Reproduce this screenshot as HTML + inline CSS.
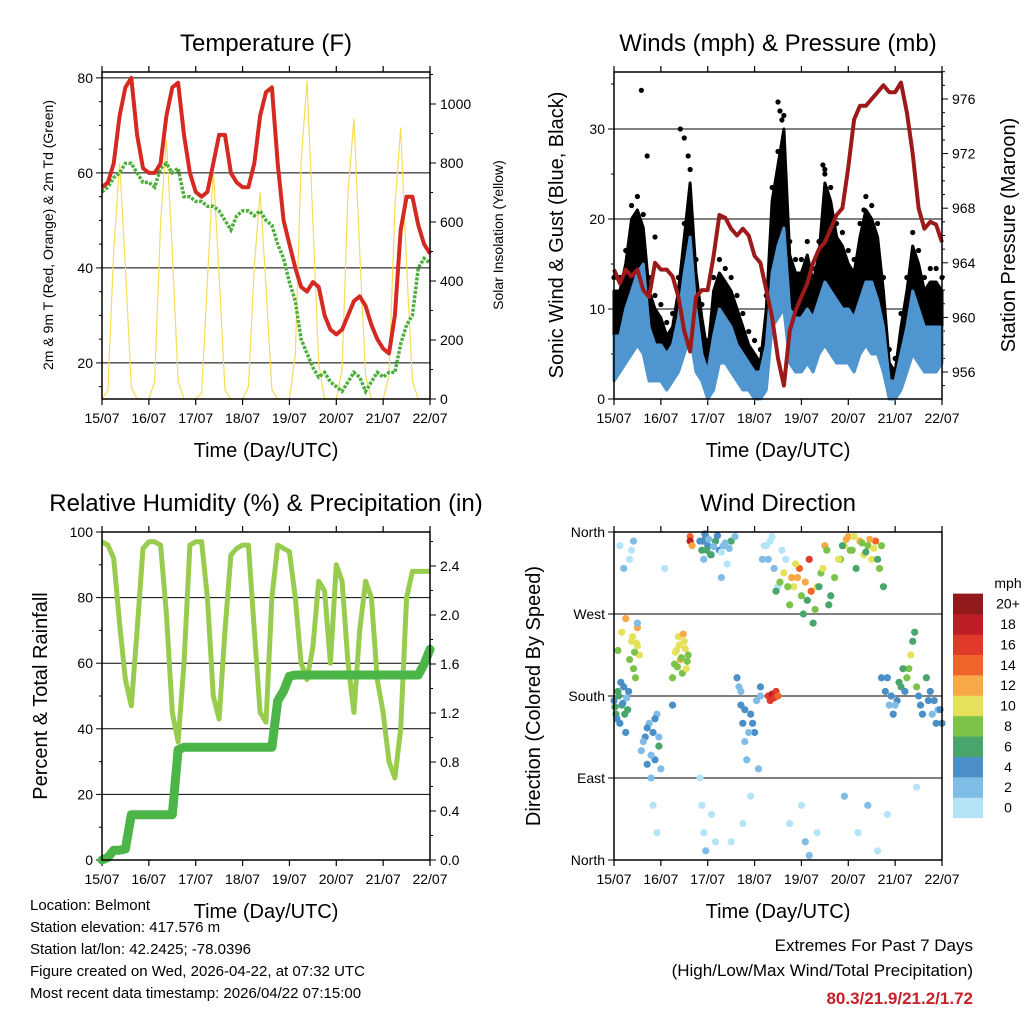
<!DOCTYPE html>
<html><head><meta charset="utf-8"><style>
html,body{margin:0;padding:0;background:#fff;}
svg{display:block;font-family:"Liberation Sans",Arial,sans-serif;}
</style></head><body>
<svg id="root" width="1024" height="1024" viewBox="0 0 1024 1024">
<g id="g1"></g>
<g id="g2"></g>
<g id="g3"></g>
<g id="g4"></g>
<g font-size="15" fill="#000">
<text x="30" y="910">Location: Belmont</text>
<text x="30" y="932">Station elevation: 417.576 m</text>
<text x="30" y="954">Station lat/lon: 42.2425; -78.0396</text>
<text x="30" y="976">Figure created on Wed, 2026-04-22, at 07:32 UTC</text>
<text x="30" y="998">Most recent data timestamp: 2026/04/22 07:15:00</text>
</g>
<g text-anchor="end">
<text x="973" y="951" font-size="17">Extremes For Past 7 Days</text>
<text x="973" y="976" font-size="17">(High/Low/Max Wind/Total Precipitation)</text>
<text x="973" y="1004" font-size="17" font-weight="bold" fill="#c8202a">80.3/21.9/21.2/1.72</text>
</g>
</svg>
<script>
// ---------- data (3-hourly, t = 0..168 h) ----------
const hours = [0,3,6,9,12,15,18,21,24,27,30,33,36,39,42,45,48,51,54,57,60,63,66,69,72,75,78,81,84,87,90,93,96,99,102,105,108,111,114,117,120,123,126,129,132,135,138,141,144,147,150,153,156,159,162,165,168];
const dayLabels = ["15/07","16/07","17/07","18/07","19/07","20/07","21/07","22/07"];
const tempF = [57,58,62,72,78,80,68,61, 60,60,62,72,78,79,68,60, 56,55,56,62,68,68,60,58, 57,57,62,72,77,78,62,50, 45,40,36,35,37,36,30,27, 26,27,30,33,34,32,28,25, 23,22,30,48,55,55,49,45,43];
const dewF = [56,57,59,60,62,62,60,58, 58,57,61,62,60,61,55,55, 54,54,53,53,52,50,48,51, 52,52,51,52,50,49,45,42, 37,33,25,22,19,17,18,16, 15,14,16,18,17,14,16,18, 17,18,18,24,28,30,40,42,41];
const solar = [0,30,500,800,450,40,0,0, 0,60,600,880,500,60,0,0, 0,20,400,780,420,30,0,0, 0,40,450,700,380,30,0,0, 0,150,800,1080,600,120,0,0, 0,100,700,950,500,80,0,0, 0,80,650,920,450,60,0,0,0];
const gustHi = [12,12,15,20,21,19,12,10, 9,7,8,12,18,24,14,9, 5,12,14,13,12,10,8,6, 5,4,10,22,26,30,16,14, 14,16,13,16,24,22,18,17, 15,14,18,21,20,18,12,4, 3,8,12,17,15,12,13,13,12];
const gustLo = [6,7,8,10,11,10,6,4, 4,3,4,5,8,11,6,4, 1,2,8,8,7,5,3,2, 1,1,3,12,14,15,8,6, 6,8,7,9,12,11,8,8, 7,7,9,10,10,9,6,1, 1,3,6,9,8,6,6,6,7];
const windHi = [7,7,10,12,14,15,8,6, 6,5,6,9,14,18,10,5, 3,7,10,9,8,6,5,4, 3,3,6,14,17,19,10,9, 9,10,9,11,13,12,11,10, 10,9,11,13,13,11,8,2, 2,5,8,12,10,8,8,8,8];
const windLo = [2,3,4,5,6,5,2,2, 2,1,2,3,5,7,3,2, 0,1,4,4,3,2,1,1, 0,0,1,8,9,10,4,3, 3,4,3,5,6,5,4,4, 4,3,5,6,5,5,3,0, 0,1,3,5,4,3,3,3,4];
const gustPeakT = [14,17,21,34,36,38,84,85,86,107,108,128];
const gustPeakV = [34.3,27,18,30,29,27,33,32,31,26,25,21];
const pressure = [963.5,962.5,963.5,963,963.5,962,961.5,964, 963.5,963.5,963,961.5,959,957.5,961.5,962, 962,964.5,967.5,967.3,966.5,966,966.5,966, 964.5,964,962,960,957,955,959,960.5, 961.5,962.5,964,965,965.5,966.5,967.5,968, 971,974.5,975.5,975.5,976,976.5,977,976.5, 976.5,977.2,975,972,968,966.5,967,966.8,965.5];
const rh = [97,96,92,72,55,47,70,95, 97,97,96,75,45,36,60,96, 97,97,80,50,43,70,93,95, 96,96,70,45,42,80,96,95, 94,80,60,55,65,85,82,60, 90,85,60,45,70,85,80,55, 45,30,25,40,80,88,88,88,88];
const precip = [0,0.02,0.08,0.08,0.09,0.37,0.37,0.37, 0.37,0.37,0.37,0.37,0.37,0.9,0.92,0.92, 0.92,0.92,0.92,0.92,0.92,0.92,0.92,0.92, 0.92,0.92,0.92,0.92,0.92,0.92,1.3,1.38, 1.5,1.51,1.51,1.51,1.51,1.51,1.51,1.51, 1.51,1.51,1.51,1.51,1.51,1.51,1.51,1.51, 1.51,1.51,1.51,1.51,1.51,1.51,1.51,1.6,1.72];
// wind direction observations: time (h), direction (deg), speed (mph)
const dirT = [0,1,2,3,4,5,6,7,2,4,6,8,9,10,11,12,12,13,8,10,3,5,9,14,16,17,18,19,20,21,22,23,24,20,22,30,31,32,33,34,35,36,37,38,39,39,40,44,45,46,47,48,50,52,54,56,58,60,44,45,46,47,50,52,64,65,66,67,68,70,72,74,75,66,70,76,78,80,82,84,86,88,79,80,81,82,83,84,90,92,94,95,96,97,98,100,102,104,106,108,110,96,98,100,104,116,118,120,122,124,126,128,130,132,134,136,138,125,130,135,137,139,141,143,145,147,150,151,152,153,154,155,156,157,158,160,162,164,166,168,30,60,90,118,140,155,12,26,55,62,
  0.5,1.5,2.5,3.5,4.5,5.5,6.5,7.5,9.5,10.5,11.5,15,17,19,21,23,31.5,32.5,33.5,34.5,35.5,36.5,37.5,45.5,46.5,47.5,48.5,49.5,51,53,55,57,59,63,65,67,69,71,73,75,77,79,81,83,85,87,89,91,93,99,101,103,105,107,109,111,113,115,117,119,121,123,127,129,131,133,135,137,140,142,144,146,148,149,161,163,165,167];
const dirD = [175,160,185,150,170,190,140,165,230,250,265,220,240,210,200,235,255,225,330,350,345,320,340,120,135,105,150,90,140,110,160,125,100,60,30,200,215,230,245,220,205,240,210,225,355,350,345,350,340,330,355,345,335,350,340,345,325,350,90,60,30,10,50,20,190,170,150,130,110,160,140,100,180,40,70,330,345,350,320,300,340,330,180,175,182,178,185,180,280,300,310,320,290,270,305,330,260,300,315,345,280,60,20,5,30,330,345,355,340,320,350,335,345,330,350,320,300,30,60,10,200,185,170,160,175,190,200,210,225,240,250,190,180,170,160,200,185,175,165,150,170,20,40,70,50,80,260,320,310,355,
  168,155,180,195,172,160,178,185,245,228,238,130,145,115,155,135,228,212,236,222,248,232,218,350,358,340,352,335,344,356,338,348,342,200,185,165,140,150,175,190,345,330,355,295,305,315,300,310,325,285,295,275,300,320,340,290,310,330,345,352,340,355,348,338,352,342,330,345,200,180,170,195,210,185,175,160,150,165];
const dirS = [5,6,7,4,6,5,4,7,9,11,12,8,10,9,8,11,13,10,1,2,1,2,1,3,4,5,3,2,5,4,3,6,2,1,1,8,9,10,11,12,9,10,11,8,15,18,13,4,6,3,7,5,2,6,4,3,1,7,1,0,1,2,1,0,3,4,5,2,3,4,5,3,2,1,1,2,1,1,2,1,0,1,16,17,18,16,17,15,8,10,13,15,9,7,12,16,6,11,9,13,7,1,2,3,1,8,10,12,9,7,13,11,8,10,14,9,6,1,2,1,4,5,3,4,5,7,8,9,10,7,6,8,5,4,5,6,5,4,3,5,4,0,1,2,1,0,2,1,2,2,
  6,5,7,4,5,6,3,5,10,9,11,3,4,2,5,3,10,9,11,8,12,10,9,5,4,6,3,7,2,5,1,3,2,4,3,5,2,4,3,5,1,2,1,7,9,11,8,12,10,6,14,9,7,11,8,6,9,10,7,12,8,11,9,6,13,10,7,8,4,5,3,6,7,5,4,3,5,4];
const speedBins = ["0","2","4","6","8","10","12","14","16","18","20+"];
const binColors = ["#b5e3f7","#80bde6","#4a8fc7","#48a66d","#7cc34a","#e6e15a","#f7a947","#ef6429","#e03a2b","#bd1d24","#921a1c"];

// ---------- helpers ----------
const NS = "http://www.w3.org/2000/svg";
function mk(parent, tag, attrs, txt){
  const e = document.createElementNS(NS, tag);
  for (const k in attrs) e.setAttribute(k, attrs[k]);
  if (txt !== undefined) e.textContent = txt;
  parent.appendChild(e);
  return e;
}
const P1 = {x0:102,x1:430,y0:72,y1:399};
const P2 = {x0:614,x1:942,y0:72,y1:399};
const P3 = {x0:102,x1:430,y0:532,y1:860};
const P4 = {x0:614,x1:942,y0:532,y1:860};
const xOf = (P,t) => P.x0 + t/168*(P.x1-P.x0);
const yTemp = v => 399 - (v-12.4)*4.75;
const ySol = v => 399 - v*0.295;
const yWind = v => 399 - 9*v;
const yPres = p => 372 - (p-956)*13.65;
const yRH = v => 860 - 3.28*v;
const yPr = p => 860 - 122.5*p;
const yDir = d => 860 - d/360*328;

function frame(g, P, title, xTitle){
  const t = mk(g,'text',{x:(P.x0+P.x1)/2,y:P.y0-21,'font-size':24,'text-anchor':'middle'},title);
  
  
  const xt = mk(g,'text',{x:(P.x0+P.x1)/2,y:P.y1+58,'font-size':20,'text-anchor':'middle'},xTitle);
  
  
  for (let d=0; d<=7; d++){
    const x = xOf(P,d*24);
    const tk = mk(g,'line',{x1:x,x2:x,y1:P.y1,y2:P.y1+6,stroke:'#000','stroke-width':1.2});
    
    
    const tk2 = mk(g,'line',{x1:x,x2:x,y1:P.y0,y2:P.y0-6,stroke:'#000','stroke-width':1.2});
    
    
    const lb = mk(g,'text',{x:x,y:P.y1+24,'font-size':14,'text-anchor':'middle'},dayLabels[d]);
    
    
  }
}
function border(g,P){
  const r = mk(g,'rect',{x:P.x0,y:P.y0,width:P.x1-P.x0,height:P.y1-P.y0,fill:'none',stroke:'#000','stroke-width':1.5});
  
  
}
function leftAxis(g,P,vals,labels,yf,minor){
  vals.forEach((v,i)=>{
    const y = yf(v);
    const gl = mk(g,'line',{x1:P.x0,x2:P.x1,y1:y,y2:y,stroke:'#000','stroke-width':1});
    
    
    const tk = mk(g,'line',{x1:P.x0-6,x2:P.x0,y1:y,y2:y,stroke:'#000'});
    
    
    const lb = mk(g,'text',{x:P.x0-9,y:y+5,'font-size':14,'text-anchor':'end'},labels[i]);
    
    
  });
  (minor||[]).forEach(v=>{
    const y=yf(v);
    const tk = mk(g,'line',{x1:P.x0-3,x2:P.x0,y1:y,y2:y,stroke:'#000'});
    
    
  });
}
function rightAxis(g,P,vals,labels,yf,minor){
  vals.forEach((v,i)=>{
    const y = yf(v);
    const tk = mk(g,'line',{x1:P.x1,x2:P.x1+6,y1:y,y2:y,stroke:'#000'});
    
    
    const lb = mk(g,'text',{x:P.x1+10,y:y+5,'font-size':14,'text-anchor':'start'},labels[i]);
    
    
  });
  (minor||[]).forEach(v=>{
    const y=yf(v);
    const tk = mk(g,'line',{x1:P.x1,x2:P.x1+3,y1:y,y2:y,stroke:'#000'});
    
    
  });
}
function vtitle(g,x,y,txt,size,name){
  const t = mk(g,'text',{x:x,y:y,'font-size':size,'text-anchor':'middle',transform:`rotate(-90 ${x} ${y})`},txt);
  
  
}
function pts(P,arr,yf){ return hours.map((h,i)=>xOf(P,h).toFixed(1)+','+yf(arr[i]).toFixed(1)).join(' '); }
function band(P,hi,lo,yf){
  const a = hours.map((h,i)=>xOf(P,h).toFixed(1)+','+yf(hi[i]).toFixed(1));
  const b = hours.map((h,i)=>xOf(P,h).toFixed(1)+','+yf(lo[i]).toFixed(1)).reverse();
  return a.concat(b).join(' ');
}

// ---------- Panel 1: temperature ----------
const g1 = document.getElementById('g1');
frame(g1,P1,'Temperature (F)','Time (Day/UTC)');
leftAxis(g1,P1,[20,40,60,80],['20','40','60','80'],yTemp,[15,25,30,35,45,50,55,65,70,75]);
rightAxis(g1,P1,[0,200,400,600,800,1000],['0','200','400','600','800','1000'],ySol,[100,300,500,700,900,1100]);
vtitle(g1,53,235,'2m & 9m T (Red, Orange) & 2m Td (Green)',14,'y-axis-title');
vtitle(g1,503,235,'Solar Insolation (Yellow)',14,'y2-axis-title');
const sol = mk(g1,'polyline',{points:pts(P1,solar,ySol),fill:'none',stroke:'#f7dc55','stroke-width':1.2});


const dew = mk(g1,'polyline',{points:pts(P1,dewF,yTemp),fill:'none',stroke:'#4caf3c','stroke-width':3.5,'stroke-dasharray':'3 1.5'});


const tl = mk(g1,'polyline',{points:pts(P1,tempF,yTemp),fill:'none',stroke:'#d42a22','stroke-width':4,'stroke-linejoin':'round'});


border(g1,P1);

// ---------- Panel 2: winds & pressure ----------
const g2 = document.getElementById('g2');
frame(g2,P2,'Winds (mph) & Pressure (mb)','Time (Day/UTC)');
leftAxis(g2,P2,[0,10,20,30],['0','10','20','30'],yWind,[5,15,25,35]);
rightAxis(g2,P2,[956,960,964,968,972,976],['956','960','964','968','972','976'],yPres,[955,957,958,959,961,962,963,965,966,967,969,970,971,973,974,975,977,978]);
vtitle(g2,563,235,'Sonic Wind & Gust (Blue, Black)',20,'y-axis-title');
vtitle(g2,1015,235,'Station Pressure (Maroon)',20,'y2-axis-title');
const gb = mk(g2,'polygon',{points:band(P2,gustHi,gustLo,yWind),fill:'#000',stroke:'#000','stroke-width':3,'stroke-linejoin':'round'});


hours.forEach((h,i)=>{
  const c = mk(g2,'circle',{cx:xOf(P2,h),cy:yWind(gustHi[i]+1.5),r:2.6,fill:'#000'});
  
  
});
gustPeakT.forEach((h,i)=>{
  const c = mk(g2,'circle',{cx:xOf(P2,h),cy:yWind(gustPeakV[i]),r:2.6,fill:'#000'});
  
  
});
const wb = mk(g2,'polygon',{points:band(P2,windHi,windLo,yWind),fill:'#4f96d0',stroke:'#4f96d0','stroke-width':3,'stroke-linejoin':'round'});


const pl = mk(g2,'polyline',{points:pts(P2,pressure,yPres),fill:'none',stroke:'#9c1a1a','stroke-width':4,'stroke-linejoin':'round'});


border(g2,P2);

// ---------- Panel 3: RH & precip ----------
const g3 = document.getElementById('g3');
frame(g3,P3,'Relative Humidity (%) & Precipitation (in)','Time (Day/UTC)');
leftAxis(g3,P3,[0,20,40,60,80,100],['0','20','40','60','80','100'],yRH,[10,30,50,70,90]);
rightAxis(g3,P3,[0,0.4,0.8,1.2,1.6,2.0,2.4],['0.0','0.4','0.8','1.2','1.6','2.0','2.4'],yPr,[0.2,0.6,1.0,1.4,1.8,2.2,2.6]);
vtitle(g3,47,696,'Percent & Total Rainfall',20,'y-axis-title');
const rl = mk(g3,'polyline',{points:pts(P3,rh,yRH),fill:'none',stroke:'#98cc4e','stroke-width':5,'stroke-linejoin':'round'});


const prl = mk(g3,'polyline',{points:pts(P3,precip,yPr),fill:'none',stroke:'#4bb548','stroke-width':9,'stroke-linejoin':'round','stroke-linecap':'round'});


border(g3,P3);

// ---------- Panel 4: wind direction ----------
const g4 = document.getElementById('g4');
frame(g4,P4,'Wind Direction','Time (Day/UTC)');
leftAxis(g4,P4,[0,90,180,270,360],['North','East','South','West','North'],yDir,[]);
vtitle(g4,540,696,'Direction (Colored By Speed)',20,'y-axis-title');
dirT.forEach((h,i)=>{
  const b = Math.min(10, Math.floor(dirS[i]/2));
  const c = mk(g4,'circle',{cx:xOf(P4,h),cy:yDir(dirD[i]),r:3.6,fill:binColors[b]});
  
  
});
border(g4,P4);
// colorbar
const cbT = mk(g4,'text',{x:1008,y:588,'font-size':14,'text-anchor':'middle'},'mph');


speedBins.forEach((lab,i)=>{
  const y = 818 - (i+1)*20.4;
  const r = mk(g4,'rect',{x:953,y:y,width:30,height:20.6,fill:binColors[i]});
  
  
  const t = mk(g4,'text',{x:1008,y:y+15,'font-size':14,'text-anchor':'middle'},lab);
  
  
});
</script>
</body></html>
